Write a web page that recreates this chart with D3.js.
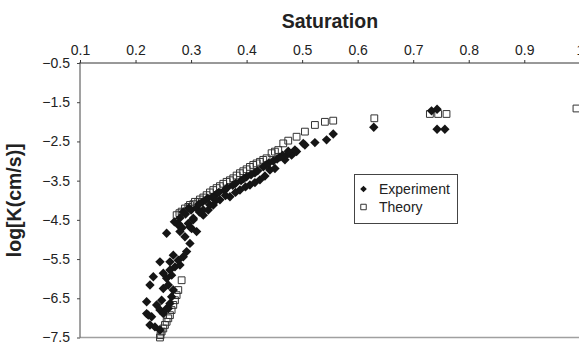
<!DOCTYPE html>
<html>
<head>
<meta charset="utf-8">
<script src="https://cdn.jsdelivr.net/npm/d3@7"></script>
<style>
  body { margin: 0; background: white; }
  svg { display: block; font-family: "Liberation Sans", Arial, Helvetica, sans-serif; }
</style>
</head>
<body>
<div id="chart"></div>
<script>
let W = 579
let H = 345

// axis ticks
let xTicks = [0.1, 0.2, 0.3, 0.4, 0.5, 0.6, 0.7, 0.8, 0.9, 1.0]
let xTickLabels = ["0.1", "0.2", "0.3", "0.4", "0.5", "0.6", "0.7", "0.8", "0.9", "1"]
let yTicks = [-0.5, -1.5, -2.5, -3.5, -4.5, -5.5, -6.5, -7.5]
let yTickLabels = ["\u22120.5", "\u22121.5", "\u22122.5", "\u22123.5", "\u22124.5", "\u22125.5", "\u22126.5", "\u22127.5"]

// Theory [saturation, logK]
let theory = [
  [0.244, -7.50], [0.245, -7.44], [0.247, -7.35], [0.250, -7.27], [0.253, -7.18],
  [0.256, -7.10], [0.259, -7.01], [0.262, -6.93], [0.265, -6.80], [0.268, -6.67],
  [0.271, -6.55], [0.274, -6.42], [0.277, -6.29], [0.283, -6.04],
  [0.274, -4.38], [0.279, -4.33], [0.283, -4.29], [0.289, -4.21], [0.295, -4.17],
  [0.298, -4.12], [0.304, -4.10], [0.307, -4.04], [0.313, -4.04], [0.316, -3.98],
  [0.322, -3.93], [0.328, -3.87], [0.334, -3.80], [0.340, -3.74], [0.346, -3.69],
  [0.352, -3.64], [0.358, -3.58], [0.364, -3.53], [0.370, -3.49], [0.376, -3.44],
  [0.382, -3.37], [0.388, -3.31], [0.394, -3.26], [0.400, -3.21], [0.406, -3.15],
  [0.412, -3.10], [0.418, -3.06], [0.424, -3.02], [0.430, -2.97], [0.436, -2.93],
  [0.445, -2.80], [0.451, -2.76], [0.457, -2.72], [0.466, -2.55], [0.475, -2.48],
  [0.490, -2.38], [0.505, -2.25], [0.523, -2.08], [0.541, -2.00], [0.556, -1.97],
  [0.630, -1.91], [0.730, -1.80], [0.745, -1.80], [0.760, -1.80], [0.994, -1.66]
]

// Experiment [saturation, logK]
let experiment = [
  [0.220, -6.59], [0.220, -6.89], [0.223, -6.93], [0.226, -7.18], [0.235, -7.23],
  [0.244, -7.31], [0.229, -6.97], [0.238, -6.67], [0.247, -6.55], [0.244, -6.80],
  [0.250, -6.89], [0.256, -6.76], [0.259, -6.76], [0.262, -6.63], [0.265, -6.46],
  [0.268, -6.29], [0.250, -6.25], [0.259, -6.16], [0.226, -6.16], [0.232, -5.95],
  [0.256, -5.99], [0.265, -5.91], [0.250, -5.86], [0.262, -5.78], [0.271, -5.70],
  [0.280, -5.65], [0.244, -5.57], [0.262, -5.57], [0.268, -5.40], [0.277, -5.53],
  [0.286, -5.44], [0.292, -5.31], [0.298, -5.10], [0.289, -4.93], [0.280, -4.80],
  [0.256, -4.84], [0.277, -4.63], [0.310, -4.80], [0.301, -4.72], [0.277, -4.59],
  [0.298, -4.68], [0.304, -4.46], [0.295, -4.59], [0.304, -4.50], [0.322, -4.38],
  [0.331, -4.25], [0.340, -4.12], [0.322, -4.25], [0.334, -4.12], [0.352, -3.99],
  [0.370, -3.91], [0.388, -3.74], [0.406, -3.61], [0.424, -3.48], [0.442, -3.23],
  [0.451, -3.19], [0.469, -2.97], [0.481, -2.85], [0.490, -2.76], [0.502, -2.55],
  [0.472, -2.85], [0.487, -2.72], [0.505, -2.59], [0.523, -2.53], [0.544, -2.46],
  [0.556, -2.31], [0.280, -4.45], [0.290, -4.35], [0.300, -4.25], [0.310, -4.20],
  [0.320, -4.05], [0.330, -3.95], [0.345, -3.85], [0.360, -3.75], [0.375, -3.62],
  [0.390, -3.50], [0.400, -3.40], [0.415, -3.30], [0.430, -3.15], [0.440, -3.05],
  [0.455, -2.95], [0.465, -2.85], [0.629, -2.14], [0.733, -1.72], [0.743, -1.68],
  [0.743, -2.19], [0.757, -2.19],
  [0.286, -4.30], [0.296, -4.20], [0.314, -4.10], [0.326, -4.00], [0.338, -3.92],
  [0.350, -3.80], [0.365, -3.68], [0.380, -3.57], [0.395, -3.45], [0.408, -3.35],
  [0.420, -3.25], [0.435, -3.10], [0.448, -3.00], [0.460, -2.90], [0.475, -2.75],
  [0.315, -4.30], [0.345, -4.00], [0.362, -3.88], [0.380, -3.80], [0.398, -3.66],
  [0.415, -3.55], [0.433, -3.38], [0.270, -4.55], [0.284, -4.70]
]

let svg = d3.select("#chart").append("svg")
  .attr("width", W)
  .attr("height", H)

let x = d3.scaleLinear().domain([0.1, 1.0]).range([80, 579.8])
let y = d3.scaleLinear().domain([-0.5, -7.5]).range([63, 337.5])

// bottom border (gray)
svg.append("line")
  .attr("x1", x(0.1)).attr("x2", W)
  .attr("y1", y(-7.5)).attr("y2", y(-7.5))
  .attr("stroke", "#a0a0a0").attr("stroke-width", 1.5)

// top axis
let xAxis = svg.append("g")
  .attr("transform", `translate(0,${y(-0.5)})`)
  .call(d3.axisTop(x).tickValues(xTicks).tickSize(3).tickPadding(5)
    .tickFormat((d, i) => xTickLabels[i]))
xAxis.select(".domain").attr("stroke", "#333").attr("d", `M${x(0.1)},0H${W}`)
xAxis.selectAll(".tick line").attr("stroke", "#333")
xAxis.selectAll("text").attr("font-size", 14).attr("fill", "#222")
  .attr("font-family", "Liberation Sans, Arial, sans-serif")

// left axis
let yAxis = svg.append("g")
  .attr("transform", `translate(${x(0.1)},0)`)
  .call(d3.axisLeft(y).tickValues(yTicks).tickSize(3).tickPadding(7)
    .tickFormat((d, i) => yTickLabels[i]))
yAxis.select(".domain").attr("stroke", "#444").attr("d", `M0,${y(-0.5) - 1}V${y(-7.5)}`)
yAxis.selectAll(".tick line").attr("stroke", "#444")
yAxis.selectAll("text").attr("font-size", 14).attr("fill", "#222")
  .attr("font-family", "Liberation Sans, Arial, sans-serif")

// titles
svg.append("text")
  .attr("x", (x(0.1) + x(1.0)) / 2).attr("y", 28)
  .attr("text-anchor", "middle")
  .attr("font-size", 19.5).attr("font-weight", "bold").attr("fill", "#222")
  .text("Saturation")

svg.append("text")
  .attr("transform", `translate(21,${(y(-0.5) + y(-7.5)) / 2}) rotate(-90)`)
  .attr("text-anchor", "middle")
  .attr("font-size", 19.5).attr("font-weight", "bold").attr("fill", "#222")
  .text("log[K(cm/s)]")

// marks
let diamond = d3.symbol().type(d3.symbolSquare).size(44)
let square = d3.symbol().type(d3.symbolSquare).size(46)

svg.append("g").selectAll("path")
  .data(theory).join("path")
  .attr("transform", d => `translate(${x(d[0])},${y(d[1])})`)
  .attr("d", square())
  .attr("fill", "none").attr("stroke", "#333").attr("stroke-width", 1)

svg.append("g").selectAll("path")
  .data(experiment).join("path")
  .attr("transform", d => `translate(${x(d[0])},${y(d[1])}) rotate(45)`)
  .attr("d", diamond())
  .attr("fill", "#151515")

// legend
let lg = svg.append("g")
lg.append("rect")
  .attr("x", 354.5).attr("y", 174.5).attr("width", 103).attr("height", 49)
  .attr("fill", "white").attr("stroke", "#444").attr("stroke-width", 1)
lg.append("path")
  .attr("transform", "translate(363.5,189) rotate(45)")
  .attr("d", d3.symbol().type(d3.symbolSquare).size(22)())
  .attr("fill", "#151515")
lg.append("path")
  .attr("transform", "translate(363.5,207)")
  .attr("d", d3.symbol().type(d3.symbolSquare).size(30)())
  .attr("fill", "white").attr("stroke", "#333")
lg.append("text").attr("x", 379).attr("y", 194)
  .attr("font-size", 14).attr("fill", "#222").text("Experiment")
lg.append("text").attr("x", 379).attr("y", 212)
  .attr("font-size", 14).attr("fill", "#222").text("Theory")
</script>
</body>
</html>
